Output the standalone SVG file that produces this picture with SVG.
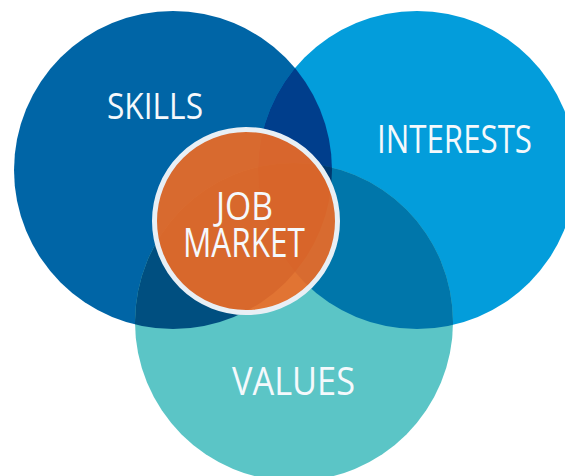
<svg xmlns="http://www.w3.org/2000/svg" width="565" height="476" viewBox="0 0 565 476">
  <style>
    .label { font-family: "Open Sans", "Liberation Sans", "DejaVu Sans", sans-serif; font-weight: 400; fill: #f5f9fc; text-anchor: middle; }
  </style>
  <defs>
    <clipPath id="clip-skills"><circle cx="173" cy="170" r="159"/></clipPath>
    <clipPath id="clip-interests"><circle cx="417" cy="170" r="159"/></clipPath>
  </defs>

  <rect width="565" height="476" fill="#ffffff"/>

  <!-- base circles -->
  <g id="skills">
    <circle cx="173" cy="170" r="159" fill="#0065a6"/>
  </g>
  <g id="interests">
    <circle cx="417" cy="170" r="159" fill="#039ddb"/>
  </g>
  <g id="values">
    <circle cx="294" cy="322" r="159" fill="#5bc5c6"/>
  </g>

  <!-- overlap regions -->
  <g id="overlaps">
    <circle cx="417" cy="170" r="159" fill="#003e8c" clip-path="url(#clip-skills)"/>
    <circle cx="294" cy="322" r="159" fill="#004f80" clip-path="url(#clip-skills)"/>
    <circle cx="294" cy="322" r="159" fill="#0076aa" clip-path="url(#clip-interests)"/>
    <g clip-path="url(#clip-skills)">
      <circle cx="294" cy="322" r="159" fill="#00386e" clip-path="url(#clip-interests)"/>
    </g>
  </g>

  <!-- labels of the outer sets -->
  <text class="label" x="155" y="119" font-size="36" textLength="96" lengthAdjust="spacingAndGlyphs">SKILLS</text>
  <text class="label" x="454.5" y="153" font-size="39" textLength="155" lengthAdjust="spacingAndGlyphs">INTERESTS</text>
  <text class="label" x="293.5" y="395" font-size="39" textLength="123" lengthAdjust="spacingAndGlyphs">VALUES</text>

  <!-- centre -->
  <g id="job-market">
    <circle cx="246" cy="221" r="91.5" fill="#f06a22" fill-opacity="0.9" stroke="#e8eff5" stroke-width="5"/>
    <text class="label" x="244.5" y="220" font-size="38" textLength="57" lengthAdjust="spacingAndGlyphs">JOB</text>
    <text class="label" x="244" y="257" font-size="40" textLength="122" lengthAdjust="spacingAndGlyphs">MARKET</text>
  </g>
</svg>
